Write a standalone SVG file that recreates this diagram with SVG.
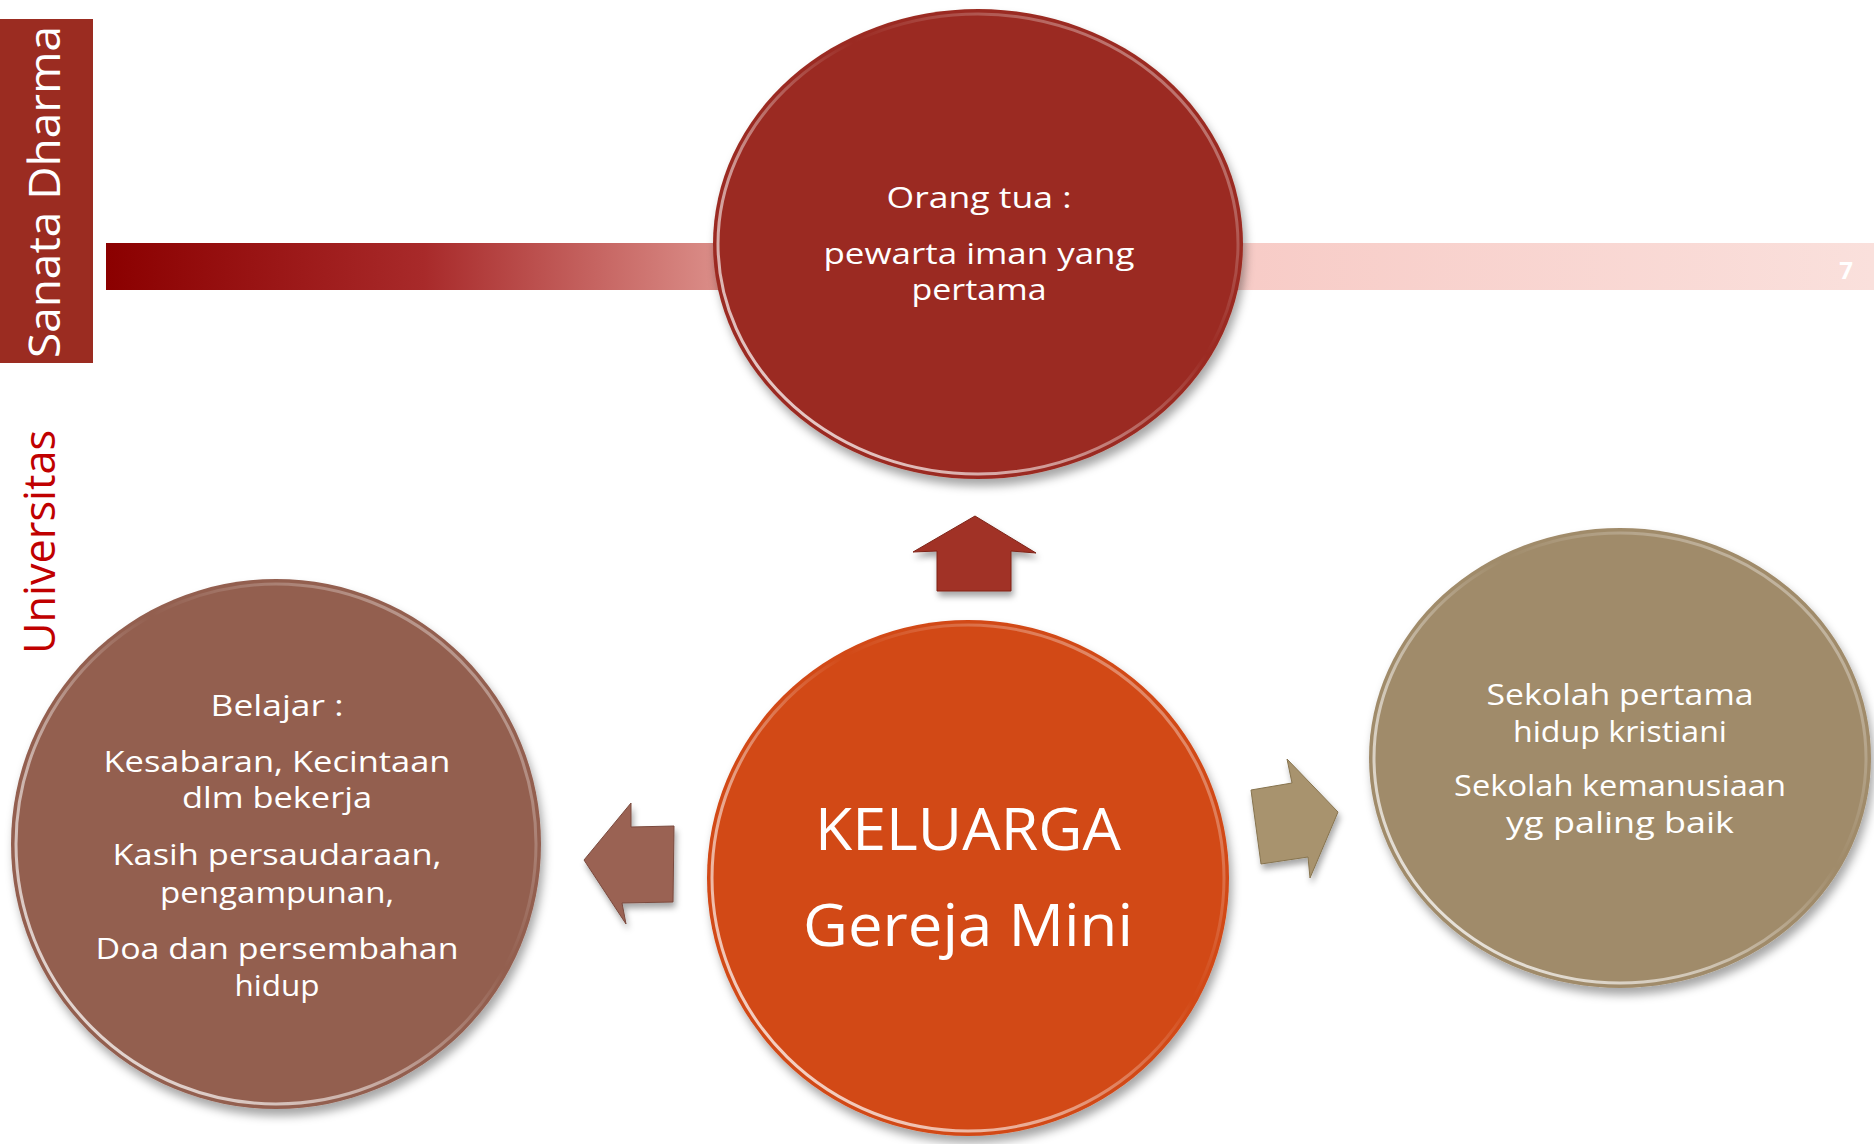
<svg xmlns="http://www.w3.org/2000/svg" width="1874" height="1144" viewBox="0 0 1874 1144">
  <defs>
    <linearGradient id="bar" x1="106" y1="0" x2="1874" y2="0" gradientUnits="userSpaceOnUse">
      <stop offset="0" stop-color="#8b0000"/>
      <stop offset="0.18" stop-color="#a82a2a"/>
      <stop offset="0.34" stop-color="#d98a85"/>
      <stop offset="0.6" stop-color="#f7c9c4"/>
      <stop offset="1" stop-color="#fae0dc"/>
    </linearGradient>
    <linearGradient id="rim" x1="0" y1="1" x2="1" y2="0">
      <stop offset="0" stop-color="#ffffff" stop-opacity="0.9"/>
      <stop offset="0.35" stop-color="#ffffff" stop-opacity="0.5"/>
      <stop offset="0.6" stop-color="#ffffff" stop-opacity="0"/>
      <stop offset="0.85" stop-color="#ffffff" stop-opacity="0.35"/>
      <stop offset="1" stop-color="#ffffff" stop-opacity="0"/>
    </linearGradient>
    <filter id="shadow" x="-10%" y="-10%" width="125%" height="125%">
      <feDropShadow dx="3" dy="7" stdDeviation="5" flood-color="#000" flood-opacity="0.35"/>
    </filter>
    <filter id="ashadow" x="-20%" y="-20%" width="150%" height="150%">
      <feDropShadow dx="2" dy="5" stdDeviation="3" flood-color="#000" flood-opacity="0.35"/>
    </filter>
  </defs>
  <style>
    .t { font-family: "Open Sans", "Liberation Sans", sans-serif; fill: #ffffff; text-anchor: middle; }
    .body { font-size: 29px; }
    .big { font-size: 58px; }
    .rim { fill: none; stroke: url(#rim); stroke-width: 3; }
  </style>

  <rect width="1874" height="1144" fill="#ffffff"/>

  <!-- side branding -->
  <g id="brand">
    <rect x="0" y="19" width="93" height="344" fill="#9b2c21"/>
    <text class="t" transform="translate(60,192) rotate(-90)" font-size="44" textLength="332" lengthAdjust="spacingAndGlyphs">Sanata Dharma</text>
    <text transform="translate(55,542) rotate(-90)" font-family="Open Sans, Liberation Sans, sans-serif" font-size="44" fill="#c00000" text-anchor="middle" textLength="224" lengthAdjust="spacingAndGlyphs">Universitas</text>
  </g>

  <!-- top gradient bar -->
  <g id="bar-band">
    <rect x="106" y="243" width="1768" height="47" fill="url(#bar)"/>
    <text x="1846" y="279" font-family="Open Sans, Liberation Sans, sans-serif" font-size="24" font-weight="bold" fill="#ffffff" text-anchor="middle">7</text>
  </g>

  <!-- connectors (block arrows) -->
  <g id="connectors" filter="url(#ashadow)">
    <polygon id="arrow-up" points="975,516 1036,553 1011,551 1011,591 937,591 937,551 913,552" fill="#a13325" stroke="#7e2318" stroke-width="1"/>
    <polygon id="arrow-left" points="584,860 631,803 631,827 674,826 673,902 622,903 626,924" fill="#9a6253" stroke="#7a4a3e" stroke-width="1"/>
    <polygon id="arrow-right" points="1251,790 1292,783 1287,759 1338,812 1310,878 1308,857 1261,864" fill="#a8936e" stroke="#87744f" stroke-width="1"/>
  </g>

  <!-- top node -->
  <g id="node-orang-tua">
    <ellipse cx="978" cy="244" rx="265" ry="235" fill="#9b2c21" filter="url(#shadow)"/>
    <ellipse cx="978" cy="244" rx="260" ry="230" class="rim"/>
    <text class="t body" x="979" y="208" textLength="185" lengthAdjust="spacingAndGlyphs">Orang tua :</text>
    <text class="t body" x="979" y="264" textLength="311" lengthAdjust="spacingAndGlyphs">pewarta iman yang</text>
    <text class="t body" x="979" y="300" textLength="135" lengthAdjust="spacingAndGlyphs">pertama</text>
  </g>

  <!-- left node -->
  <g id="node-belajar">
    <ellipse cx="276" cy="844" rx="265" ry="265" fill="#935f50" filter="url(#shadow)"/>
    <ellipse cx="276" cy="844" rx="260" ry="260" class="rim"/>
    <text class="t body" x="277" y="716" textLength="133" lengthAdjust="spacingAndGlyphs">Belajar :</text>
    <text class="t body" x="277" y="772" textLength="347" lengthAdjust="spacingAndGlyphs">Kesabaran, Kecintaan</text>
    <text class="t body" x="277" y="808" textLength="190" lengthAdjust="spacingAndGlyphs">dlm bekerja</text>
    <text class="t body" x="277" y="865" textLength="329" lengthAdjust="spacingAndGlyphs">Kasih persaudaraan,</text>
    <text class="t body" x="277" y="903" textLength="234" lengthAdjust="spacingAndGlyphs">pengampunan,</text>
    <text class="t body" x="277" y="959" textLength="363" lengthAdjust="spacingAndGlyphs">Doa dan persembahan</text>
    <text class="t body" x="277" y="996" textLength="85" lengthAdjust="spacingAndGlyphs">hidup</text>
  </g>

  <!-- right node -->
  <g id="node-sekolah">
    <ellipse cx="1620" cy="758" rx="251" ry="230" fill="#a08b6a" filter="url(#shadow)"/>
    <ellipse cx="1620" cy="758" rx="246" ry="225" class="rim"/>
    <text class="t body" x="1620" y="705" textLength="267" lengthAdjust="spacingAndGlyphs">Sekolah pertama</text>
    <text class="t body" x="1620" y="742" textLength="214" lengthAdjust="spacingAndGlyphs">hidup kristiani</text>
    <text class="t body" x="1620" y="796" textLength="332" lengthAdjust="spacingAndGlyphs">Sekolah kemanusiaan</text>
    <text class="t body" x="1620" y="833" textLength="228" lengthAdjust="spacingAndGlyphs">yg paling baik</text>
  </g>

  <!-- center node -->
  <g id="node-keluarga">
    <ellipse cx="968" cy="878" rx="261" ry="258" fill="#d24817" filter="url(#shadow)"/>
    <ellipse cx="968" cy="878" rx="256" ry="253" class="rim"/>
    <text class="t big" x="968" y="850" textLength="306" lengthAdjust="spacingAndGlyphs">KELUARGA</text>
    <text class="t big" x="968" y="946" textLength="330" lengthAdjust="spacingAndGlyphs">Gereja Mini</text>
  </g>
</svg>
